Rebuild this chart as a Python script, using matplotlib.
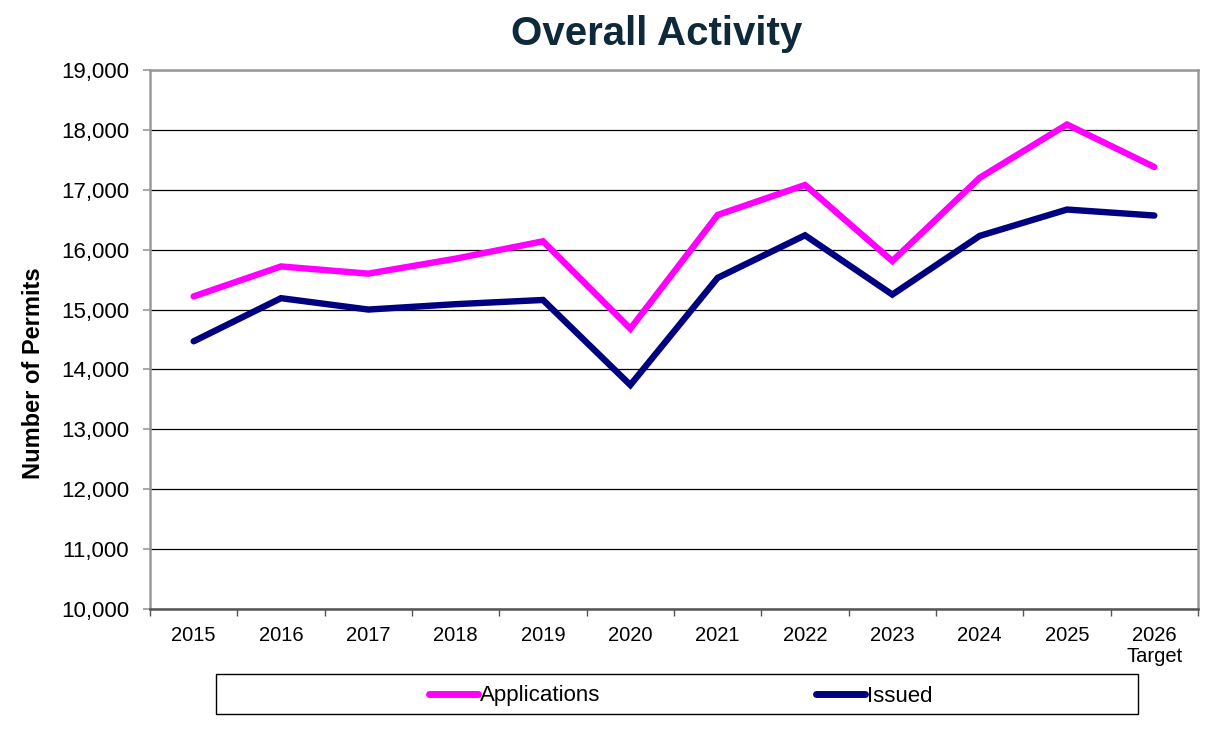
import matplotlib
matplotlib.use("Agg")
import matplotlib.pyplot as plt
import numpy as np
from matplotlib import font_manager
from matplotlib.patches import Rectangle

years = ["2015", "2016", "2017", "2018", "2019", "2020", "2021", "2022", "2023", "2024", "2025", "2026\nTarget"]
applications = [15220, 15720, 15600, 15850, 16140, 14680, 16580, 17080, 15810, 17200, 18090, 17380]
issued = [14470, 15190, 15000, 15090, 15160, 13740, 15530, 16240, 15250, 16230, 16670, 16570]
yticks = list(range(10000, 19001, 1000))

names = {f.name for f in font_manager.fontManager.ttflist}
base = "Liberation Sans" if "Liberation Sans" in names else "DejaVu Sans"
plt.rcParams['font.family'] = [base, 'DejaVu Sans']

W, H = 1230, 745
fig = plt.figure(figsize=(W/100, H/100), dpi=100)
ax = fig.add_axes([150/W, 1-609/H, (1198-150)/W, (609-70)/H])

x = np.arange(len(years))
l1, = ax.plot(x, applications, color="#FF00FF", lw=4.6, solid_capstyle="round", solid_joinstyle="miter", label="Applications")
l2, = ax.plot(x, issued, color="#000080", lw=4.6, solid_capstyle="round", solid_joinstyle="miter", label="Issued")

ax.set_xlim(-0.5, len(years) - 0.5)
ax.set_ylim(10000, 19000)
ax.set_yticks(yticks)
ax.set_yticklabels([f"{v:,}" for v in yticks], fontsize=16)
ax.yaxis.grid(True, color="black", lw=0.9)
ax.set_axisbelow(True)

ax.set_xticks(np.arange(-0.5, len(years), 1))
ax.set_xticklabels([])
ax.set_xticks(x, minor=True)
ax.set_xticklabels(years, minor=True, fontsize=14.5, linespacing=1.15)
ax.tick_params(axis="x", which="major", length=5, color="#555555", width=1)
ax.tick_params(axis="x", which="minor", length=0, pad=12)
ax.tick_params(axis="y", length=5, color="#999999", width=1.2, pad=10)

for s in ["top", "right", "left"]:
    ax.spines[s].set_color("#999999")
    ax.spines[s].set_linewidth(1.8)
ax.spines["bottom"].set_color("#555555")
ax.spines["bottom"].set_linewidth(1.8)

fig.text(34/W, 1-373/H, "Number of Permits", rotation=90, ha="center", va="center",
         fontsize=17, fontweight="bold")
fig.text(657/W, 1-34/H, "Overall Activity", ha="center", va="center", fontsize=29,
         fontweight="bold", color="#0E2A3A")

fig.patches.append(Rectangle((216/W, 1-714/H), (1138-216)/W, 40/H, transform=fig.transFigure,
                             fill=False, edgecolor="black", lw=1.0))
leg = fig.legend(handles=[l1, l2], loc="center left", bbox_to_anchor=(429/W, 1-696/H),
                 ncol=2, frameon=False, fontsize=16, handlelength=2.2, handletextpad=0.1,
                 columnspacing=9.7, borderpad=0, borderaxespad=0)
for line in leg.get_lines():
    line.set_linewidth(5)

fig.savefig("out.png", dpi=100)
